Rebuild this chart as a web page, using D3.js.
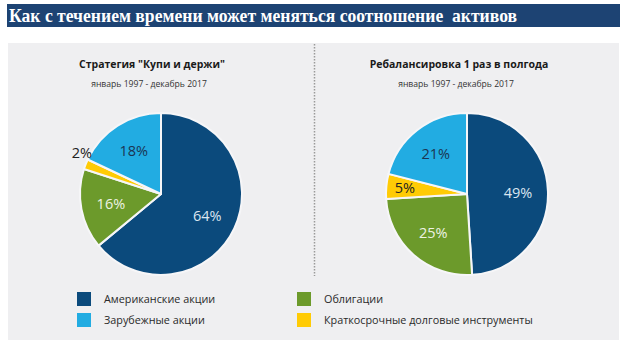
<!DOCTYPE html>
<html><head><meta charset="utf-8">
<script src="https://cdn.jsdelivr.net/npm/d3@7"></script>
<style>
html,body{margin:0;padding:0;background:#fff;}
svg{display:block;}
</style></head>
<body>
<svg id="c" width="623" height="344"></svg>
<script>
const pageTitle = "Как с течением времени может меняться соотношение  активов";
const categories = ["Американские акции", "Облигации", "Краткосрочные долговые инструменты", "Зарубежные акции"];
const chartTitles = ["Стратегия \"Купи и держи\"", "Ребалансировка 1 раз в полгода"];
const chartSubtitles = ["январь 1997 - декабрь 2017", "январь 1997 - декабрь 2017"];
const buyAndHold = [64, 16, 2, 18];
const rebalance = [49, 25, 5, 21];
const legendOrder = ["Американские акции", "Зарубежные акции", "Облигации", "Краткосрочные долговые инструменты"];

const colors = d3.scaleOrdinal().domain(categories).range(["#0b4a7c", "#6c9a2b", "#ffcb05", "#22ace2"]);
const labelColors = d3.scaleOrdinal().domain(categories).range(["#dbe6f1", "#eef3e4", "#222222", "#1b3553"]);

const svg = d3.select("#c");

// title bar
svg.append("rect").attr("x", 7).attr("y", 4).attr("width", 613).attr("height", 23).attr("fill", "#1d4373");
svg.append("text").attr("x", 9).attr("y", 22)
  .attr("fill", "#fff").attr("font-family", "Liberation Serif, Times New Roman, serif")
  .attr("font-weight", "bold").attr("font-size", 19)
  .attr("textLength", 508).attr("lengthAdjust", "spacingAndGlyphs")
  .style("white-space", "pre").text(pageTitle);

// panel
svg.append("rect").attr("x", 8).attr("y", 43).attr("width", 611).attr("height", 297).attr("fill", "#efeff1");
svg.append("line").attr("x1", 314.5).attr("x2", 314.5).attr("y1", 44).attr("y2", 276)
  .attr("stroke", "#9a9a9a").attr("stroke-width", 1.5).attr("stroke-dasharray", "1.5,1.5");

const panels = [
  {data: buyAndHold, cx: 161, cy: 194, tx: 152},
  {data: rebalance, cx: 467, cy: 194, tx: 459}
];
const r = 81;
const pie = d3.pie().sort(null).value(d => d.v);
const arc = d3.arc().innerRadius(0).outerRadius(r);

panels.forEach((p, i) => {
  svg.append("text").attr("x", p.tx).attr("y", 68).attr("text-anchor", "middle")
    .attr("font-family", "Open Sans, sans-serif").attr("font-weight", "bold").attr("font-size", 10.5)
    .attr("fill", "#1a1a1a").text(chartTitles[i]);
  svg.append("text").attr("x", p.tx - 3).attr("y", 87).attr("text-anchor", "middle")
    .attr("font-family", "Open Sans, sans-serif").attr("font-size", 8.6)
    .attr("fill", "#333").text(chartSubtitles[i]);

  const rows = categories.map((c, k) => ({c, v: p.data[k]}));
  const g = svg.append("g").attr("transform", `translate(${p.cx},${p.cy})`);
  const arcs = pie(rows);
  g.selectAll("path").data(arcs).join("path")
    .attr("d", arc).attr("fill", d => colors(d.data.c))
    .attr("stroke", "#f6f6f8").attr("stroke-width", 2).attr("stroke-linejoin", "round");
  g.selectAll("text").data(arcs).join("text")
    .attr("transform", d => {
      const a = (d.startAngle + d.endAngle) / 2;
      const f = d.data.v < 3 ? 1.05 : (d.data.v < 10 ? 0.77 : 0.63);
      return `translate(${Math.sin(a) * r * f},${-Math.cos(a) * r * f})`;
    })
    .attr("dy", d => d.data.v < 3 ? "-0.35em" : "0.36em")
    .attr("text-anchor", "middle")
    .attr("font-family", "Open Sans, sans-serif").attr("font-size", 14.5)
    .attr("fill", d => labelColors(d.data.c))
    .text(d => d.data.v + "%");
});

// legend
const legX = [77, 297], legY = [292, 313];
legendOrder.forEach((c, k) => {
  const col = Math.floor(k / 2), row = k % 2;
  svg.append("rect").attr("x", legX[col]).attr("y", legY[row]).attr("width", 14).attr("height", 14)
    .attr("fill", colors(c));
  svg.append("text").attr("x", legX[col] + 27).attr("y", legY[row] + 7).attr("dy", "0.35em")
    .attr("font-family", "Open Sans, sans-serif").attr("font-size", 10.8).attr("fill", "#2a2a2a")
    .text(c);
});
</script>
</body></html>
